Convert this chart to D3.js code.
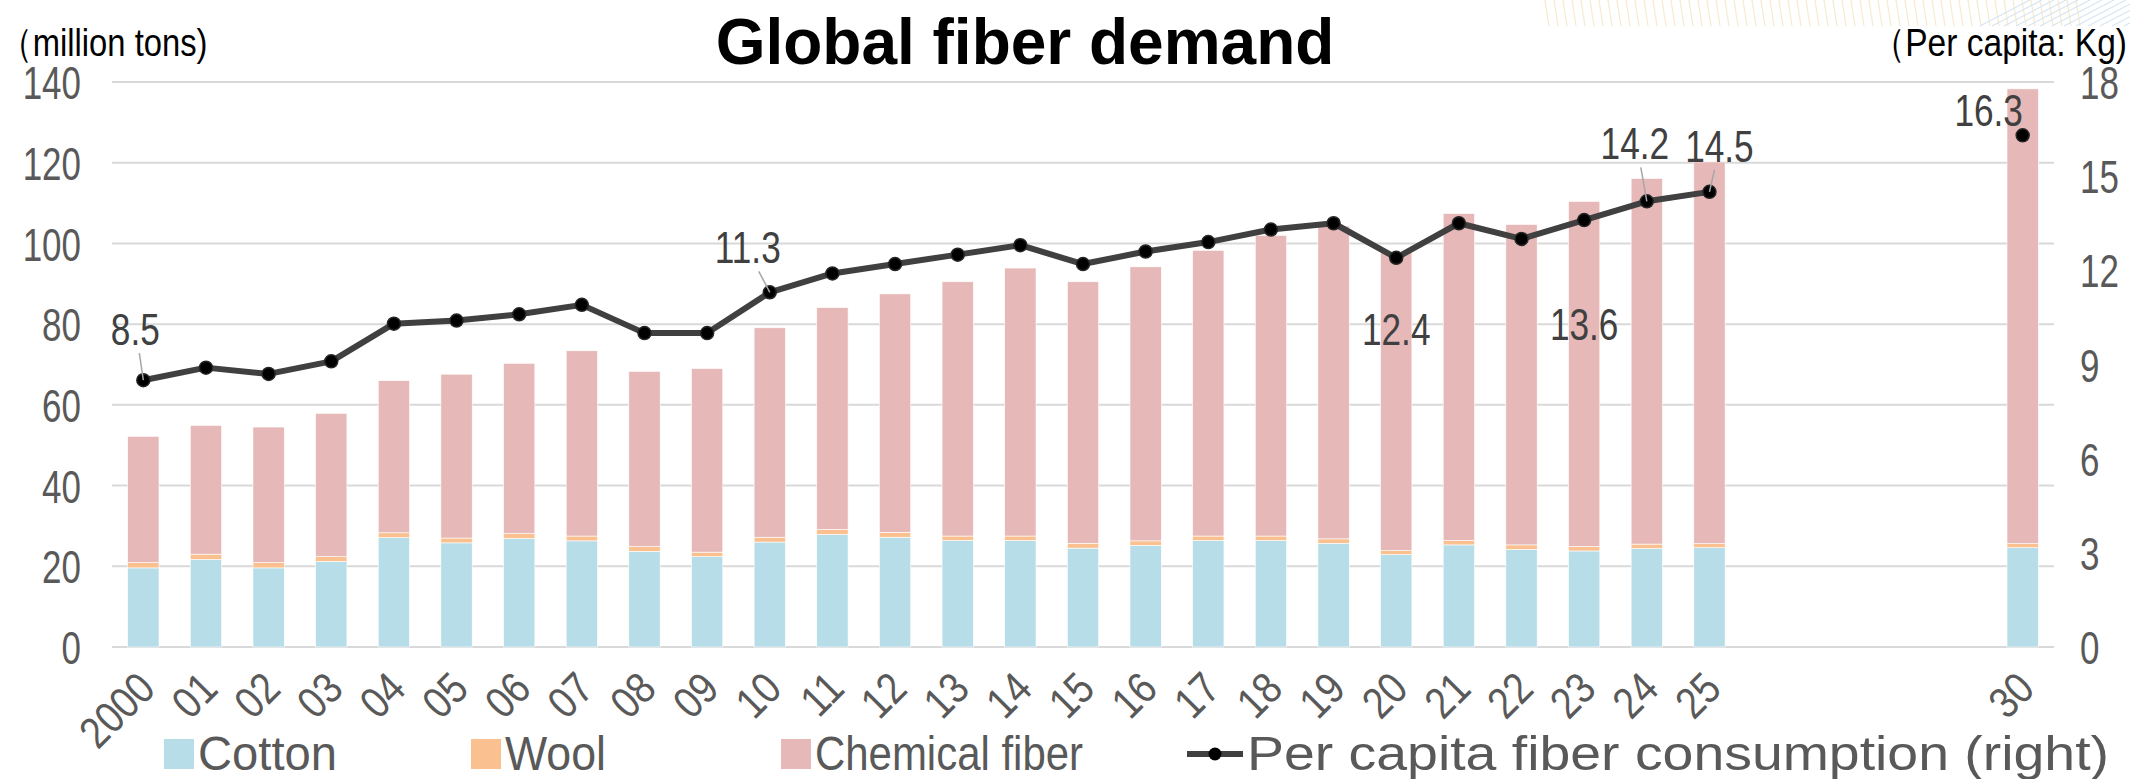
<!DOCTYPE html>
<html>
<head>
<meta charset="utf-8">
<script src="https://cdn.jsdelivr.net/npm/d3@7"></script>
<style>
  body { margin: 0; background: #fff; }
  svg { display: block; }
</style>
</head>
<body>
<svg id="chart"></svg>
<script>
// data
var years = [2000, 2001, 2002, 2003, 2004, 2005, 2006, 2007, 2008, 2009, 2010, 2011, 2012,
             2013, 2014, 2015, 2016, 2017, 2018, 2019, 2020, 2021, 2022, 2023, 2024, 2025, 2030];
var yearLabels = ['2000', '01', '02', '03', '04', '05', '06', '07', '08', '09', '10', '11', '12',
                  '13', '14', '15', '16', '17', '18', '19', '20', '21', '22', '23', '24', '25', '30'];
var cotton = [19.6, 21.7, 19.6, 21.2, 27.1, 25.8, 26.9, 26.3, 23.7, 22.4, 26.0, 27.9, 27.2,
              26.4, 26.4, 24.5, 25.2, 26.4, 26.4, 25.7, 22.9, 25.3, 24.2, 23.8, 24.4, 24.6, 24.6];
var wool = [1.3, 1.3, 1.3, 1.2, 1.2, 1.2, 1.2, 1.2, 1.2, 1.1, 1.2, 1.2, 1.2,
            1.1, 1.1, 1.2, 1.1, 1.1, 1.1, 1.1, 1.0, 1.1, 1.1, 1.1, 1.1, 1.0, 1.0];
var total = [52.2, 54.9, 54.5, 57.9, 66.0, 67.6, 70.3, 73.4, 68.3, 69.0, 79.1, 84.1, 87.5,
             90.5, 93.9, 90.5, 94.2, 98.3, 102.0, 104.3, 97.9, 107.4, 104.7, 110.4, 116.1, 120.2, 138.3];
var perCapita = [8.5, 8.9, 8.7, 9.1, 10.3, 10.4, 10.6, 10.9, 10.0, 10.0, 11.3, 11.9, 12.2,
                 12.5, 12.8, 12.2, 12.6, 12.9, 13.3, 13.5, 12.4, 13.5, 13.0, 13.6, 14.2, 14.5, 16.3];
var chemical = total.map(function(t, i) { return +(t - cotton[i] - wool[i]).toFixed(1); });

var leftTicks = [0, 20, 40, 60, 80, 100, 120, 140];
var rightTicks = [0, 3, 6, 9, 12, 15, 18];

// which points get a value label, and where it sits
var labelled = [
  {year: 2000, dx: -8,  dy: -35, leader: true},
  {year: 2010, dx: -22, dy: -29, leader: true},
  {year: 2020, dx: 0,   dy: 87,  leader: false},
  {year: 2023, dx: 0,   dy: 120, leader: false},
  {year: 2024, dx: -12, dy: -42, leader: true},
  {year: 2025, dx: 10,  dy: -30, leader: true},
  {year: 2030, dx: -34, dy: -9,  leader: false}
];

var seriesNames = ['Cotton', 'Wool', 'Chemical fiber'];
var colors = {Cotton: '#B7DDE8', Wool: '#FAC090', 'Chemical fiber': '#E6B9B8'};

var W = 2130, H = 779;
var margin = {left: 112, right: 76, top: 82, bottom: 134};
var font = "'Liberation Sans', Arial, sans-serif";
var textGrey = '#595959';

var svg = d3.select('#chart').attr('width', W).attr('height', H);

// decoration from the slide template, top right
var deco = svg.append('g').attr('opacity', 0.35);
d3.range(0, 60).forEach(function(i) {
  deco.append('line')
    .attr('x1', 1545 + i * 9).attr('y1', 0)
    .attr('x2', 1549 + i * 9).attr('y2', 26)
    .attr('stroke', '#E8C56A').attr('stroke-width', 1.2);
});
d3.range(0, 14).forEach(function(i) {
  deco.append('line')
    .attr('x1', 1980 + i * 12).attr('y1', 26)
    .attr('x2', 2030 + i * 12).attr('y2', 0)
    .attr('stroke', '#8DB8DD').attr('stroke-width', 1.2);
});

var x = d3.scaleBand()
  .domain(d3.range(2000, 2031))
  .range([margin.left, W - margin.right])
  .paddingInner(0.5)
  .paddingOuter(0.25);

var y = d3.scaleLinear().domain([0, 140]).range([H - margin.bottom + 2, margin.top]);
var y2 = d3.scaleLinear().domain([0, 18]).range([H - margin.bottom + 2, margin.top]);

// gridlines
svg.append('g')
  .selectAll('line')
  .data(leftTicks)
  .enter()
  .append('line')
    .attr('x1', margin.left)
    .attr('x2', W - margin.right)
    .attr('y1', function(d) { return y(d); })
    .attr('y2', function(d) { return y(d); })
    .attr('stroke', '#D9D9D9')
    .attr('stroke-width', 2);

// stacked bars
var rows = years.map(function(yr, i) {
  return {year: yr, Cotton: cotton[i], Wool: wool[i], 'Chemical fiber': chemical[i]};
});
var stacked = d3.stack().keys(seriesNames)(rows);

svg.append('g')
  .selectAll('g')
  .data(stacked)
  .enter()
  .append('g')
    .attr('fill', function(d) { return colors[d.key]; })
  .selectAll('rect')
  .data(function(d) { return d; })
  .enter()
  .append('rect')
    .attr('x', function(d) { return x(d.data.year); })
    .attr('y', function(d) { return y(d[1]); })
    .attr('width', x.bandwidth())
    .attr('height', function(d) { return y(d[0]) - y(d[1]); })
    .attr('stroke', '#fff')
    .attr('stroke-width', 0.6);

// the original type is a condensed face; squeeze the regular one
function condense(sel, sx) {
  sel.attr('transform', function() {
    var t = d3.select(this).attr('transform') || '';
    return t + ' scale(' + sx + ',1)';
  });
}

// left axis
var leftAxis = svg.append('g')
  .attr('transform', 'translate(' + (margin.left - 31) + ',0)')
  .call(d3.axisLeft(y).tickValues(leftTicks).tickSize(0).tickPadding(0));
leftAxis.select('.domain').remove();
leftAxis.selectAll('text')
  .attr('font-family', font).attr('font-size', 46).attr('fill', textGrey)
  .attr('dy', '0.36em')
  .call(condense, 0.76);

// right axis
var rightAxis = svg.append('g')
  .attr('transform', 'translate(' + (W - margin.right + 26) + ',0)')
  .call(d3.axisRight(y2).tickValues(rightTicks).tickSize(0).tickPadding(0));
rightAxis.select('.domain').remove();
rightAxis.selectAll('text')
  .attr('font-family', font).attr('font-size', 46).attr('fill', textGrey)
  .attr('dy', '0.36em')
  .call(condense, 0.76);

// bottom axis, only the drawn years
var bottomAxis = svg.append('g')
  .attr('transform', 'translate(0,' + y(0) + ')')
  .call(d3.axisBottom(x).tickValues(years).tickSize(0)
          .tickFormat(function(d) { return yearLabels[years.indexOf(d)]; }));
bottomAxis.select('.domain').remove();
bottomAxis.selectAll('text')
  .attr('font-family', font).attr('font-size', 44).attr('fill', textGrey)
  .attr('text-anchor', 'end')
  .attr('y', 0)
  .attr('dy', 0)
  .attr('transform', 'translate(14,44) rotate(-45) scale(0.86,1)');

// per capita line (2000-2025 joined, 2030 on its own)
var linePts = years.map(function(yr, i) { return {year: yr, v: perCapita[i]}; });
var line = d3.line()
  .defined(function(d) { return d.year <= 2025; })
  .x(function(d) { return x(d.year) + x.bandwidth() / 2; })
  .y(function(d) { return y2(d.v); });

svg.append('path')
  .datum(linePts)
  .attr('d', line)
  .attr('fill', 'none')
  .attr('stroke', '#404040')
  .attr('stroke-width', 6)
  .attr('stroke-linejoin', 'round');

svg.append('g')
  .selectAll('circle')
  .data(linePts)
  .enter()
  .append('circle')
    .attr('cx', function(d) { return x(d.year) + x.bandwidth() / 2; })
    .attr('cy', function(d) { return y2(d.v); })
    .attr('r', 6.5)
    .attr('fill', '#000')
    .attr('stroke', '#262626')
    .attr('stroke-width', 1.5);

// value labels with leader lines
var lab = svg.append('g');
labelled.forEach(function(l) {
  var i = years.indexOf(l.year);
  var cx = x(l.year) + x.bandwidth() / 2, cy = y2(perCapita[i]);
  if (l.leader) {
    lab.append('line')
      .attr('x1', cx + l.dx * 0.5).attr('y1', cy + l.dy + 8)
      .attr('x2', cx).attr('y2', cy)
      .attr('stroke', '#A6A6A6').attr('stroke-width', 1.5);
  }
  lab.append('text')
    .attr('transform', 'translate(' + (cx + l.dx) + ',' + (cy + l.dy) + ')')
    .attr('text-anchor', 'middle')
    .attr('font-family', font).attr('font-size', 44).attr('fill', '#404040')
    .text(perCapita[i].toFixed(1))
    .call(condense, 0.8);
});

// title and unit captions
svg.append('text')
  .attr('x', 1025).attr('y', 64)
  .attr('text-anchor', 'middle')
  .attr('font-family', font)
  .attr('font-weight', 'bold').attr('font-size', 64)
  .attr('fill', '#000')
  .text('Global fiber demand');

svg.append('text')
  .attr('transform', 'translate(0,56)')
  .attr('font-family', font).attr('font-size', 39).attr('fill', '#000')
  .text('（million tons)')
  .call(condense, 0.84);

svg.append('text')
  .attr('transform', 'translate(2127,56)')
  .attr('text-anchor', 'end')
  .attr('font-family', font).attr('font-size', 39).attr('fill', '#000')
  .text('（Per capita: Kg)')
  .call(condense, 0.86);

// legend
var legendNames = seriesNames.concat(['Per capita fiber consumption (right)']);
var legendX = [198, 505, 815, 1247];
var legendW = [139, 101, 268, 862];
var legendY = 754;
var leg = svg.append('g').attr('font-family', font).attr('font-size', 48).attr('fill', textGrey);
seriesNames.forEach(function(name, i) {
  leg.append('rect')
    .attr('x', legendX[i] - 34).attr('y', legendY - 15)
    .attr('width', 30).attr('height', 30)
    .attr('fill', colors[name]);
});
leg.append('line')
  .attr('x1', legendX[3] - 60).attr('x2', legendX[3] - 4)
  .attr('y1', legendY).attr('y2', legendY)
  .attr('stroke', '#404040').attr('stroke-width', 6);
leg.append('circle')
  .attr('cx', legendX[3] - 32).attr('cy', legendY).attr('r', 6.5)
  .attr('fill', '#000');
legendNames.forEach(function(name, i) {
  leg.append('text')
    .attr('x', legendX[i]).attr('y', legendY + 16)
    .attr('textLength', legendW[i])
    .attr('lengthAdjust', 'spacingAndGlyphs')
    .text(name);
});
</script>
</body>
</html>
